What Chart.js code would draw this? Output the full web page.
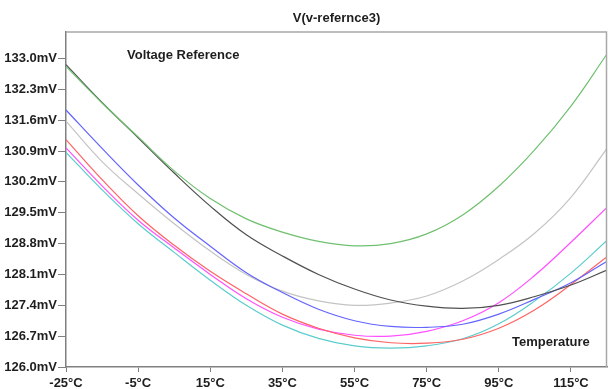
<!DOCTYPE html>
<html>
<head>
<meta charset="utf-8">
<script src="https://cdn.jsdelivr.net/npm/chart.js@4.4.1/dist/chart.umd.min.js"></script>
<style>
  html, body { margin: 0; padding: 0; background: #fff; }
  #wrap { width: 608px; height: 389px; position: relative; }
</style>
</head>
<body>
<div id="wrap"><canvas id="chart"></canvas></div>
<script>
'use strict';

// temperature sweep (°C) and the seven traces (mV)
const temps = [-25, -15, -5, 5, 15, 25, 35, 45, 55, 65, 75, 85, 95, 105, 115, 125];
const greenTrace   = [132.82, 131.99, 131.22, 130.45, 129.82, 129.36, 129.06, 128.85, 128.75, 128.80, 129.02, 129.45, 130.10, 130.93, 131.92, 133.10];
const blackTrace   = [132.86, 132.00, 131.20, 130.40, 129.65, 129.00, 128.52, 128.10, 127.77, 127.52, 127.38, 127.33, 127.40, 127.60, 127.86, 128.20];
const blueTrace    = [131.83, 130.96, 130.13, 129.38, 128.74, 128.14, 127.69, 127.31, 127.05, 126.92, 126.90, 126.97, 127.20, 127.54, 127.91, 128.40];
const grayTrace    = [131.58, 130.66, 129.93, 129.25, 128.63, 128.10, 127.72, 127.50, 127.40, 127.45, 127.61, 127.95, 128.44, 129.04, 129.85, 130.96];
const redTrace     = [131.16, 130.25, 129.43, 128.76, 128.17, 127.66, 127.20, 126.88, 126.66, 126.55, 126.54, 126.63, 126.88, 127.30, 127.87, 128.50];
const magentaTrace = [130.97, 130.11, 129.33, 128.70, 128.10, 127.55, 127.13, 126.86, 126.72, 126.70, 126.81, 127.05, 127.46, 128.08, 128.83, 129.62];
const cyanTrace    = [130.87, 130.02, 129.25, 128.60, 127.97, 127.40, 126.95, 126.65, 126.48, 126.43, 126.48, 126.64, 126.98, 127.50, 128.13, 128.87];

const xTicks = [-25, -5, 15, 35, 55, 75, 95, 115];
const yTicks = [126.0, 126.7, 127.4, 128.1, 128.8, 129.5, 130.2, 130.9, 131.6, 132.3, 133.0];

const title = 'V(v-refernce3)';
const topNote = 'Voltage Reference';
const bottomNote = 'Temperature';

const FONT = '"Liberation Sans", Arial, sans-serif';
const TEXT = '#1e1e1e';

const series = [
    { data: greenTrace,   color: '#70c070' },
    { data: blackTrace,   color: '#505050' },
    { data: blueTrace,    color: '#6464ff' },
    { data: grayTrace,    color: '#c4c4c4' },
    { data: redTrace,     color: '#ff6464' },
    { data: magentaTrace, color: '#ff50ff' },
    { data: cyanTrace,    color: '#5ccccc' }
];

const datasets = series.map(s => ({
    data: temps.map((t, i) => ({ x: t, y: s.data[i] })),
    borderColor: s.color,
    borderWidth: 1.2,
    pointRadius: 0,
    tension: 0.4,
    fill: false
}));

// box around the plot plus title and the two notes
const framePlugin = {
    id: 'frame',
    afterDraw(chart) {
        const { ctx, chartArea: a } = chart;
        ctx.save();
        ctx.strokeStyle = '#a8a8a8';
        ctx.lineWidth = 1.5;
        ctx.beginPath();
        ctx.moveTo(a.left, a.top);
        ctx.lineTo(a.right - 0.5, a.top);
        ctx.lineTo(a.right - 0.5, a.bottom);
        ctx.stroke();

        ctx.fillStyle = TEXT;
        ctx.font = 'bold 13px ' + FONT;
        ctx.textBaseline = 'middle';
        ctx.textAlign = 'center';
        ctx.fillText(title, (a.left + a.right) / 2, a.top - 14);
        ctx.textAlign = 'left';
        ctx.fillText(topNote, a.left + 61, a.top + 23);
        ctx.fillText(bottomNote, a.right - 95, a.bottom - 25);
        ctx.restore();
    }
};

new Chart(document.getElementById('chart'), {
    type: 'line',
    data: { datasets: datasets },
    options: {
        responsive: true,
        maintainAspectRatio: false,
        animation: false,
        layout: { padding: { top: 32, right: 1, left: 0, bottom: 0 } },
        plugins: {
            legend: { display: false },
            tooltip: { enabled: false },
            title: { display: false }
        },
        scales: {
            x: {
                type: 'linear',
                min: -25,
                max: 125,
                afterBuildTicks: s => { s.ticks = xTicks.map(v => ({ value: v })); },
                afterFit: s => { s.height = 22; },
                border: { color: '#808080', width: 1.5 },
                grid: { drawOnChartArea: false, drawTicks: true, tickLength: 5, color: '#808080' },
                ticks: {
                    color: TEXT,
                    padding: 4,
                    maxRotation: 0,
                    autoSkip: false,
                    font: { family: FONT, size: 13, weight: 'bold' },
                    callback: v => v + '°C'
                }
            },
            y: {
                type: 'linear',
                min: 126,
                max: 133.6,
                afterBuildTicks: s => { s.ticks = yTicks.map(v => ({ value: v })); },
                afterFit: s => { s.width = 66; },
                border: { color: '#808080', width: 1.5 },
                grid: { drawOnChartArea: false, drawTicks: true, tickLength: 8, color: '#808080' },
                ticks: {
                    color: TEXT,
                    padding: 1,
                    autoSkip: false,
                    font: { family: FONT, size: 13, weight: 'bold' },
                    callback: v => v.toFixed(1) + 'mV'
                }
            }
        }
    },
    plugins: [framePlugin]
});
</script>
</body>
</html>
